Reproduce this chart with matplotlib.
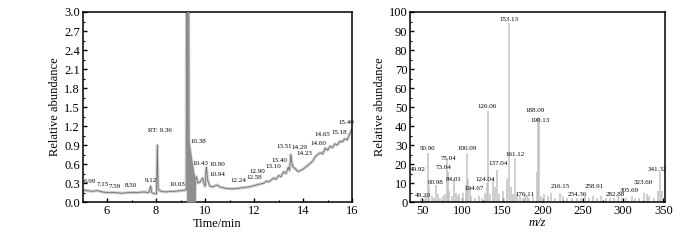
import matplotlib
matplotlib.use('Agg')
import matplotlib.pyplot as plt
from matplotlib.ticker import MultipleLocator

plt.rcParams['font.family'] = ['Liberation Serif', 'DejaVu Serif']

# chromatogram trace (time, relative abundance)
time = [5.0, 5.1, 5.2, 5.4, 5.6, 5.8, 6.0, 6.3, 6.6, 6.9, 7.2, 7.5, 7.7, 7.76, 7.78, 7.82,
        7.95, 8.02, 8.05, 8.08, 8.2, 8.4, 8.6, 8.8, 9.0, 9.2, 9.23, 9.24, 9.33, 9.34, 9.42,
        9.5, 9.55, 9.6, 9.65, 9.7, 9.8, 9.9, 9.95, 10.0, 10.05, 10.1, 10.2, 10.3, 10.5, 10.6,
        10.8, 11.0, 11.2, 11.4, 11.6, 11.8, 12.0, 12.2, 12.4, 12.5, 12.6, 12.8, 12.9, 13.0,
        13.1, 13.2, 13.3, 13.4, 13.45, 13.5, 13.55, 13.6, 13.7, 13.8, 13.9, 14.0, 14.2, 14.4,
        14.5, 14.6, 14.7, 14.8, 14.9, 15.0, 15.1, 15.2, 15.3, 15.4, 15.5, 15.6, 15.7, 15.8,
        15.9, 16.0]
abund = [0.17, 0.19, 0.18, 0.17, 0.18, 0.16, 0.15, 0.15, 0.14, 0.15, 0.15, 0.16, 0.15, 0.22,
         0.25, 0.15, 0.13, 0.13, 0.90, 0.20, 0.17, 0.16, 0.17, 0.17, 0.18, 0.19, 0.20, 3.4,
         3.4, 0.97, 0.70, 0.50, 0.42, 0.35, 0.40, 0.30, 0.32, 0.38, 0.30, 0.25, 0.55, 0.35,
         0.25, 0.24, 0.27, 0.24, 0.22, 0.21, 0.21, 0.22, 0.23, 0.24, 0.26, 0.28, 0.30, 0.33,
         0.32, 0.38, 0.36, 0.42, 0.40, 0.48, 0.45, 0.55, 0.50, 0.75, 0.60, 0.55, 0.52, 0.48,
         0.50, 0.52, 0.58, 0.65, 0.72, 0.75, 0.78, 0.76, 0.85, 0.82, 0.88, 0.86, 0.92, 0.90,
         0.96, 0.95, 1.00, 0.98, 1.08, 1.15]

# main peak outline (filled grey)
peak_t = [9.23, 9.24, 9.33, 9.33, 9.62]
peak_y = [0.20, 3.4, 3.4, 0.97, 0.30]

# retention-time labels and where they sit
rt_labels = ['6.99', '7.15', '7.59', '8.50', '9.12', 'RT: 9.36', '10.03', '10.38', '10.43',
             '10.90', '10.94', '12.24', '12.58', '12.90', '13.10', '13.40', '13.51', '14.29',
             '14.23', '14.60', '14.65', '15.18', '15.40']
rt_x = [5.28, 5.81, 6.31, 6.98, 7.77, 8.15, 8.86, 9.73, 9.81, 10.49, 10.49, 11.37, 12.0,
        12.15, 12.78, 13.03, 13.24, 13.85, 14.07, 14.64, 14.78, 15.46, 15.78]
rt_y = [0.28, 0.24, 0.21, 0.22, 0.30, 1.09, 0.24, 0.92, 0.57, 0.56, 0.39, 0.30, 0.35, 0.44,
        0.52, 0.61, 0.83, 0.82, 0.73, 0.88, 1.02, 1.06, 1.21]

# mass spectrum sticks
mz = [49, 52, 55, 56.6, 58, 62, 64, 67, 69, 72, 76, 78, 80.3, 81.5, 83, 87, 90, 92, 94, 96,
      99, 101, 104, 106, 107.5, 109, 111, 115, 120, 124, 128, 130, 131.7, 134, 138, 140,
      142.5, 145, 150, 155, 158.3, 160, 163, 166, 168, 172, 175, 178, 180, 183, 188, 193,
      194.4, 195.5, 198, 202, 206, 210, 215, 221, 225, 230, 236, 242, 247, 252, 258, 263,
      268, 272, 278, 283, 288, 293, 298, 303, 310.5, 315, 320, 326, 329, 332, 338, 343,
      346, 348]
inten = [2, 1.5, 3, 26, 9, 3, 2, 9, 4, 2, 3, 4, 22, 16, 6, 3, 12, 5, 3, 4, 2, 5, 9, 26, 12,
         8, 3, 2, 3, 2, 5, 10, 48, 4, 12, 8, 17, 4, 6, 12, 94, 8, 4, 23, 5, 3, 2, 4, 3, 2, 3,
         16, 45, 44, 3, 4, 3, 5, 2, 5, 3, 2, 2, 2, 2, 3, 2, 3, 2, 3, 2, 2, 2, 3, 2, 2, 3, 2,
         2, 5, 4, 3, 2, 6, 16, 6]

mz_labels = ['49.20', '49.92', '50.96', '60.98', '73.04', '75.04', '84.01', '100.09',
             '104.67', '124.04', '126.06', '137.04', '153.13', '161.12', '176.11', '188.09',
             '190.13', '216.15', '234.36', '258.91', '282.88', '305.69', '323.60', '341.32']
mz_lx = [50.5, 44, 57, 67, 77, 82, 89, 106, 114, 128, 131, 145, 158, 166, 178, 190, 196,
         222, 243, 264, 290, 308, 325, 343]
mz_ly = [1.5, 15, 26, 8, 16, 21, 10, 26, 5, 10, 48, 18, 94, 23, 2, 46, 41, 6, 2, 6, 2, 4, 8, 15]

fig = plt.figure(figsize=(7, 2.4), dpi=100)
ax1 = fig.add_axes([0.118, 0.158, 0.385, 0.792])
ax2 = fig.add_axes([0.586, 0.158, 0.364, 0.792])

# left: chromatogram
ax1.plot(time, abund, color='#cccccc', lw=2.2)
ax1.plot(time, abund, color='#666666', lw=0.5)
ax1.fill_between(peak_t, 0, peak_y, color='#8f8f8f', lw=0, zorder=3)
for s, x, y in zip(rt_labels, rt_x, rt_y):
    ax1.text(x, y, s, fontsize=5, ha='center', va='bottom')
ax1.set_xlim(5, 16)
ax1.set_ylim(0, 3.0)
ax1.xaxis.set_major_locator(MultipleLocator(2))
ax1.xaxis.set_minor_locator(MultipleLocator(1))
ax1.yaxis.set_major_locator(MultipleLocator(0.3))
ax1.yaxis.set_minor_locator(MultipleLocator(0.15))
ax1.yaxis.set_major_formatter(plt.FormatStrFormatter('%.1f'))
ax1.set_xlabel('Time/min', fontsize=9, labelpad=1)
ax1.set_ylabel('Relative abundance', fontsize=9, labelpad=2)

# right: mass spectrum
ax2.vlines(mz, 0, inten, color='#c2c2c2', lw=1.1)
for s, x, y in zip(mz_labels, mz_lx, mz_ly):
    ax2.text(x, y + 0.8, s, fontsize=5, ha='center', va='bottom')
ax2.set_xlim(35, 352)
ax2.set_ylim(0, 100)
ax2.xaxis.set_major_locator(MultipleLocator(50))
ax2.xaxis.set_minor_locator(MultipleLocator(25))
ax2.yaxis.set_major_locator(MultipleLocator(10))
ax2.yaxis.set_minor_locator(MultipleLocator(5))
ax2.set_xlabel('m/z', fontsize=9, style='italic', labelpad=0)
ax2.set_ylabel('Relative abundance', fontsize=9, labelpad=2)

for ax in (ax1, ax2):
    for sp in ax.spines.values():
        sp.set_linewidth(1.1)
    ax.tick_params(which='both', direction='in', top=False, right=False, labelsize=9, pad=2)
    ax.tick_params(which='major', length=3, width=1)
    ax.tick_params(which='minor', length=1.5, width=0.8)

fig.savefig('out.png', dpi=100)
